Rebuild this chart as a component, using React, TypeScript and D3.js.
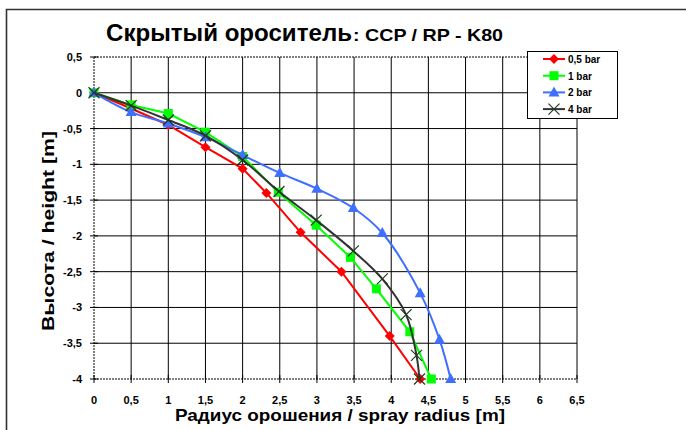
import React from 'react';
import * as d3 from 'd3';

// Данные графика: радиус (м) и высота (м) для каждого давления
const xTicks = [0, 0.5, 1, 1.5, 2, 2.5, 3, 3.5, 4, 4.5, 5, 5.5, 6, 6.5];
const yTicks = [0.5, 0, -0.5, -1, -1.5, -2, -2.5, -3, -3.5, -4];

const bar05X = [0, 0.5, 1, 1.5, 2, 2.32, 2.78, 3.33, 3.98, 4.39];
const bar05Y = [0, -0.22, -0.45, -0.76, -1.06, -1.4, -1.95, -2.5, -3.4, -4];

const bar1X = [0, 0.5, 1, 1.5, 2, 2.48, 2.99, 3.45, 3.8, 4.25, 4.54];
const bar1Y = [0, -0.17, -0.29, -0.55, -0.89, -1.39, -1.85, -2.3, -2.74, -3.34, -4];

const bar2X = [0, 0.5, 1, 1.5, 2, 2.5, 3, 3.49, 3.88, 4.39, 4.65, 4.8];
const bar2Y = [0, -0.27, -0.43, -0.62, -0.87, -1.12, -1.34, -1.61, -1.96, -2.8, -3.45, -4];

const bar4X = [0, 0.5, 1, 1.5, 2, 2.49, 2.99, 3.49, 3.88, 4.2, 4.34, 4.38];
const bar4Y = [0, -0.18, -0.38, -0.6, -0.94, -1.38, -1.78, -2.21, -2.6, -3.1, -3.67, -4];

const seriesNames = ['0,5 bar', '1 bar', '2 bar', '4 bar'];

type Marker = 'diamond' | 'square' | 'triangle' | 'cross';

const series = [
  { name: seriesNames[0], xs: bar05X, ys: bar05Y, color: '#ff0000', marker: 'diamond' as Marker, smooth: false },
  { name: seriesNames[1], xs: bar1X, ys: bar1Y, color: '#00ff00', marker: 'square' as Marker, smooth: false },
  { name: seriesNames[2], xs: bar2X, ys: bar2Y, color: '#3f6fff', marker: 'triangle' as Marker, smooth: true },
  { name: seriesNames[3], xs: bar4X, ys: bar4Y, color: '#333333', marker: 'cross' as Marker, smooth: true },
];

const W = 686;
const H = 430;
const plot = { left: 94, right: 577, top: 57, bottom: 379 };
const FONT = 'Liberation Sans, Arial, sans-serif';

const MarkerShape = ({ type, x, y, color }: { type: Marker; x: number; y: number; color: string }) => {
  if (type === 'diamond') {
    return <path d={`M${x},${y - 5}L${x + 5},${y}L${x},${y + 5}L${x - 5},${y}Z`} fill={color} />;
  }
  if (type === 'square') {
    return <rect x={x - 4.5} y={y - 4.5} width={9} height={9} fill={color} />;
  }
  if (type === 'triangle') {
    return <path d={`M${x},${y - 6}L${x + 5.5},${y + 4}L${x - 5.5},${y + 4}Z`} fill={color} />;
  }
  return (
    <path
      d={`M${x - 5.5},${y - 5.5}L${x + 5.5},${y + 5.5}M${x - 5.5},${y + 5.5}L${x + 5.5},${y - 5.5}`}
      stroke="#1d3a1d"
      strokeWidth={1.2}
      fill="none"
    />
  );
};

const App: React.FC = () => {
  const x = d3.scaleLinear().domain([0, 6.5]).range([plot.left, plot.right]);
  const y = d3.scaleLinear().domain([-4, 0.5]).range([plot.bottom, plot.top]);

  const legend = { x: 527, y: 51, w: 90, h: 67 };

  return (
    <svg
      width={W}
      height={H}
      style={{ position: 'absolute', left: 0, top: 0, background: '#ffffff' }}
      fontFamily={FONT}
    >
      <rect x={0} y={0} width={W} height={H} fill="#ffffff" />
      {/* рамка диаграммы */}
      <path d={`M6.5,${H + 2}V9.5H${W + 2}`} fill="none" stroke="#333333" strokeWidth={1.6} />

      {/* заголовок */}
      <text x={106} y={41} fontWeight="bold" fontSize={24} textLength={246} lengthAdjust="spacingAndGlyphs">
        Скрытый ороситель
      </text>
      <text x={353} y={41} fontWeight="bold" fontSize={17} textLength={150} lengthAdjust="spacingAndGlyphs">
        : CCP / RP - K80
      </text>

      {/* сетка */}
      {yTicks.filter(t => t > -4 && t < 0.5).map(t => (
        <line key={`gy${t}`} x1={plot.left} x2={plot.right} y1={y(t)} y2={y(t)} stroke="#000" strokeWidth={1} />
      ))}
      {xTicks.filter(t => t > 0 && t < 6.5).map(t => (
        <line key={`gx${t}`} x1={x(t)} x2={x(t)} y1={plot.top} y2={plot.bottom} stroke="#000" strokeWidth={1} />
      ))}
      {/* границы области построения */}
      <line x1={plot.left} x2={plot.right} y1={plot.top} y2={plot.top} stroke="#000" strokeDasharray="2,1" />
      <line x1={plot.right} x2={plot.right} y1={plot.top} y2={plot.bottom} stroke="#000" />
      <line x1={plot.left} x2={plot.right} y1={plot.bottom} y2={plot.bottom} stroke="#000" strokeDasharray="2,1" />
      <line x1={plot.left} x2={plot.left} y1={plot.top} y2={plot.bottom} stroke="#000" strokeDasharray="2,1" />

      {/* деления и подписи оси X */}
      {xTicks.map(t => (
        <g key={`tx${t}`}>
          <line x1={x(t)} x2={x(t)} y1={plot.bottom - 4} y2={plot.bottom + 4} stroke="#000" />
          <text x={x(t)} y={plot.bottom + 25} textAnchor="middle" fontSize={11} fontWeight="bold">
            {String(t).replace('.', ',')}
          </text>
        </g>
      ))}
      {/* деления и подписи оси Y */}
      {yTicks.map(t => (
        <g key={`ty${t}`}>
          <line x1={plot.left - 4} x2={plot.left + 4} y1={y(t)} y2={y(t)} stroke="#000" />
          <text x={plot.left - 12} y={y(t) + 4} textAnchor="end" fontSize={11} fontWeight="bold">
            {String(t).replace('.', ',')}
          </text>
        </g>
      ))}

      {/* серии */}
      {series.map(s => {
        const pts: [number, number][] = s.xs.map((v, i) => [x(v), y(s.ys[i])]);
        const line = d3.line().curve(s.smooth ? d3.curveCatmullRom.alpha(0.5) : d3.curveLinear);
        return (
          <g key={s.name}>
            <path d={line(pts) || ''} fill="none" stroke={s.color} strokeWidth={2} />
            {pts.map(([px, py], i) => (
              <MarkerShape key={i} type={s.marker} x={px} y={py} color={s.color} />
            ))}
          </g>
        );
      })}

      {/* подписи осей */}
      <text
        transform={`translate(54,231) rotate(-90)`}
        textAnchor="middle"
        fontSize={17}
        fontWeight="bold"
        textLength={200}
        lengthAdjust="spacingAndGlyphs"
      >
        Высота / height [m]
      </text>
      <text x={340} y={421} textAnchor="middle" fontSize={17} fontWeight="bold" textLength={330} lengthAdjust="spacingAndGlyphs">
        Радиус орошения / spray radius [m]
      </text>

      {/* легенда */}
      <rect x={legend.x + 0.5} y={legend.y + 0.5} width={legend.w} height={legend.h} fill="#fff" stroke="#000" />
      {series.map((s, i) => {
        const ly = legend.y + 8 + i * 16.7;
        return (
          <g key={`lg${s.name}`}>
            <line x1={543} x2={565} y1={ly} y2={ly} stroke={s.color} strokeWidth={2} />
            <MarkerShape type={s.marker} x={554} y={ly} color={s.color} />
            <text x={568} y={ly + 4} fontSize={10} fontWeight="bold">
              {s.name}
            </text>
          </g>
        );
      })}
    </svg>
  );
};

export default App;
